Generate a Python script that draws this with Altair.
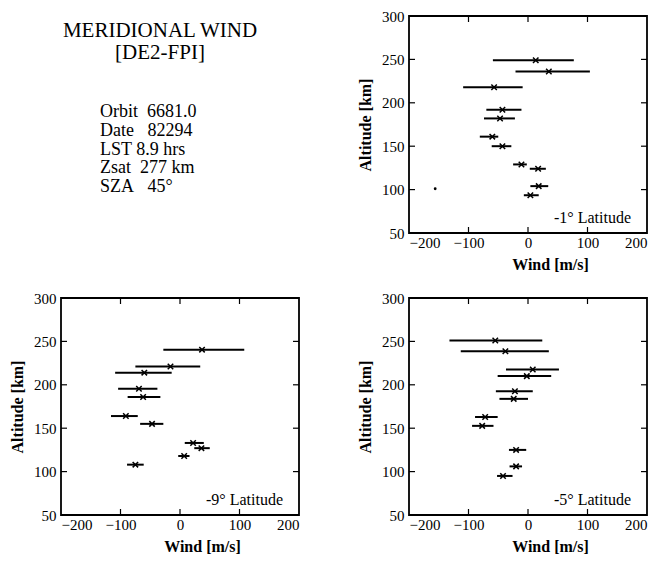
import altair as alt
import pandas as pd

# -1 deg latitude panel
alt_m1 = [249, 236, 218, 192, 182, 161, 150, 129, 124, 104, 93.5]
wind_m1 = [13, 35, -57, -43, -47, -60, -43, -11, 17, 18, 4]
lo_m1 = [-59, -21, -109, -70, -74, -81, -61, -25, 3, 4, -7]
hi_m1 = [77, 104, -9, -11, -22, -50, -28, -2, 30, 34, 18]
dot_m1_wind = [-156]
dot_m1_alt = [101]

# -9 deg latitude panel
alt_m9 = [240.5, 221, 214, 195.4, 186, 164, 155, 133, 127, 118, 108]
wind_m9 = [37, -16, -60, -69, -62, -91, -47, 22, 36, 7, -75]
lo_m9 = [-28, -75, -109, -104, -88, -116, -67, 8, 24, -3, -89]
hi_m9 = [108, 34, -14, -38, -33, -71, -28, 40, 50, 16, -61]

# -5 deg latitude panel
alt_m5 = [251, 238.6, 217.7, 210, 192.6, 183.8, 162.9, 152.7, 125, 106, 95]
wind_m5 = [-55, -38, 8, -2, -22, -24, -72, -77, -20, -20, -42]
lo_m5 = [-132, -113, -37, -51, -54, -48, -89, -94, -32, -31, -52]
hi_m5 = [24, 35, 52, 39, 8, 0, -51, -58, -3, -10, -26]

x_ticks = [-200, -100, 0, 100, 200]
y_ticks = [50, 100, 150, 200, 250, 300]
x_inner = [-100, 0, 100]
y_inner = [100, 150, 200, 250]

NB = "\u00a0"
title_lines = ["MERIDIONAL WIND", "[DE2-FPI]"]
info_lines = ["Orbit" + NB * 2 + "6681.0", "Date" + NB * 3 + "82294", "LST 8.9 hrs",
              "Zsat" + NB * 2 + "277 km", "SZA" + NB * 3 + "45°"]

W, H = 238, 217
FONT = "Liberation Serif"
XT = "Wind [m/s]"
YT = "Altitude [km]"

xs = alt.Scale(domain=[-200, 200], nice=False, zero=False)
ys = alt.Scale(domain=[50, 300], nice=False, zero=False)

MARK = "M-1,-1L1,1M-1,1L1,-1"


def panel(alts, winds, los, his, label, dot=None):
    df = pd.DataFrame({"alt": alts, "wind": winds, "lo": los, "hi": his})
    bars = alt.Chart(df).mark_rule(color="black", strokeWidth=2).encode(
        x=alt.X("lo:Q", scale=xs, title=XT,
                axis=alt.Axis(values=x_ticks, ticks=False, domain=False, grid=False,
                              labelPadding=2, titlePadding=6, titleX=W / 2 + 22)),
        x2="hi:Q",
        y=alt.Y("alt:Q", scale=ys, title=YT,
                axis=alt.Axis(values=y_ticks, ticks=False, domain=False, grid=False,
                              labelPadding=5, titlePadding=8)),
    )
    pts = alt.Chart(df).mark_point(shape=MARK, color="black", strokeWidth=1.5,
                                   size=30, filled=False, opacity=1).encode(
        x=alt.X("wind:Q", scale=xs, title=XT),
        y=alt.Y("alt:Q", scale=ys, title=YT),
    )
    tl = pd.DataFrame({"v": y_inner})
    tx = pd.DataFrame({"v": x_inner})
    lt = alt.Chart(tl).mark_rule(color="black", strokeWidth=1.2).encode(
        y=alt.Y("v:Q", scale=ys, title=YT), x=alt.value(0), x2=alt.value(6))
    rt = alt.Chart(tl).mark_rule(color="black", strokeWidth=1.2).encode(
        y=alt.Y("v:Q", scale=ys, title=YT), x=alt.value(W - 6), x2=alt.value(W))
    bt = alt.Chart(tx).mark_rule(color="black", strokeWidth=1.2).encode(
        x=alt.X("v:Q", scale=xs, title=XT), y=alt.value(H - 6), y2=alt.value(H))
    tt = alt.Chart(tx).mark_rule(color="black", strokeWidth=1.2).encode(
        x=alt.X("v:Q", scale=xs, title=XT), y=alt.value(0), y2=alt.value(6))
    lab = alt.Chart(pd.DataFrame({"t": [label]})).mark_text(
        font=FONT, fontSize=16, align="right", baseline="middle", color="black"
    ).encode(text="t:N", x=alt.value(W - 16), y=alt.value(H - 15))
    layers = [bars, pts, lt, rt, bt, tt, lab]
    if dot is not None:
        dd = pd.DataFrame({"wind": dot[0], "alt": dot[1]})
        layers.append(alt.Chart(dd).mark_circle(color="black", size=8, opacity=1).encode(
            x=alt.X("wind:Q", scale=xs, title=XT), y=alt.Y("alt:Q", scale=ys, title=YT)))
    return alt.layer(*layers).properties(width=W, height=H)


tdf = pd.DataFrame({"t": title_lines, "i": list(range(len(title_lines)))})
idf = pd.DataFrame({"t": info_lines, "i": list(range(len(info_lines)))})
title_txt = alt.Chart(tdf).mark_text(font=FONT, fontSize=21, align="center",
                                     baseline="middle", color="black").encode(
    text="t:N", x=alt.value(99),
    y=alt.Y("i:Q", scale=alt.Scale(domain=[0, 1], range=[15, 37]), axis=None))
info_txt = alt.Chart(idf).mark_text(font=FONT, fontSize=18, align="left",
                                    baseline="middle", color="black").encode(
    text="t:N", x=alt.value(39),
    y=alt.Y("i:Q", scale=alt.Scale(domain=[0, 4], range=[96, 171]), axis=None))
text_panel = alt.layer(title_txt, info_txt).resolve_scale(y="independent").properties(
    width=W, height=H, view=alt.ViewConfig(stroke=None))

p1 = panel(alt_m1, wind_m1, lo_m1, hi_m1, "-1° Latitude", dot=(dot_m1_wind, dot_m1_alt))
p9 = panel(alt_m9, wind_m9, lo_m9, hi_m9, "-9° Latitude")
p5 = panel(alt_m5, wind_m5, lo_m5, hi_m5, "-5° Latitude")

chart = alt.concat(
    text_panel, p1, p9, p5, columns=2,
    spacing=alt.RowColnumber(row=17, column=55),
).properties(
    background="white",
    padding={"left": 0, "top": 0, "right": 5, "bottom": 5},
).configure_view(
    stroke="black", strokeWidth=1.8
).configure_axis(
    labelFont=FONT, titleFont=FONT, labelFontSize=15, titleFontSize=16,
    labelColor="black", titleColor="black", titleFontWeight="bold"
)

chart.save("out.html", embed_options={"renderer": "svg", "actions": False})
